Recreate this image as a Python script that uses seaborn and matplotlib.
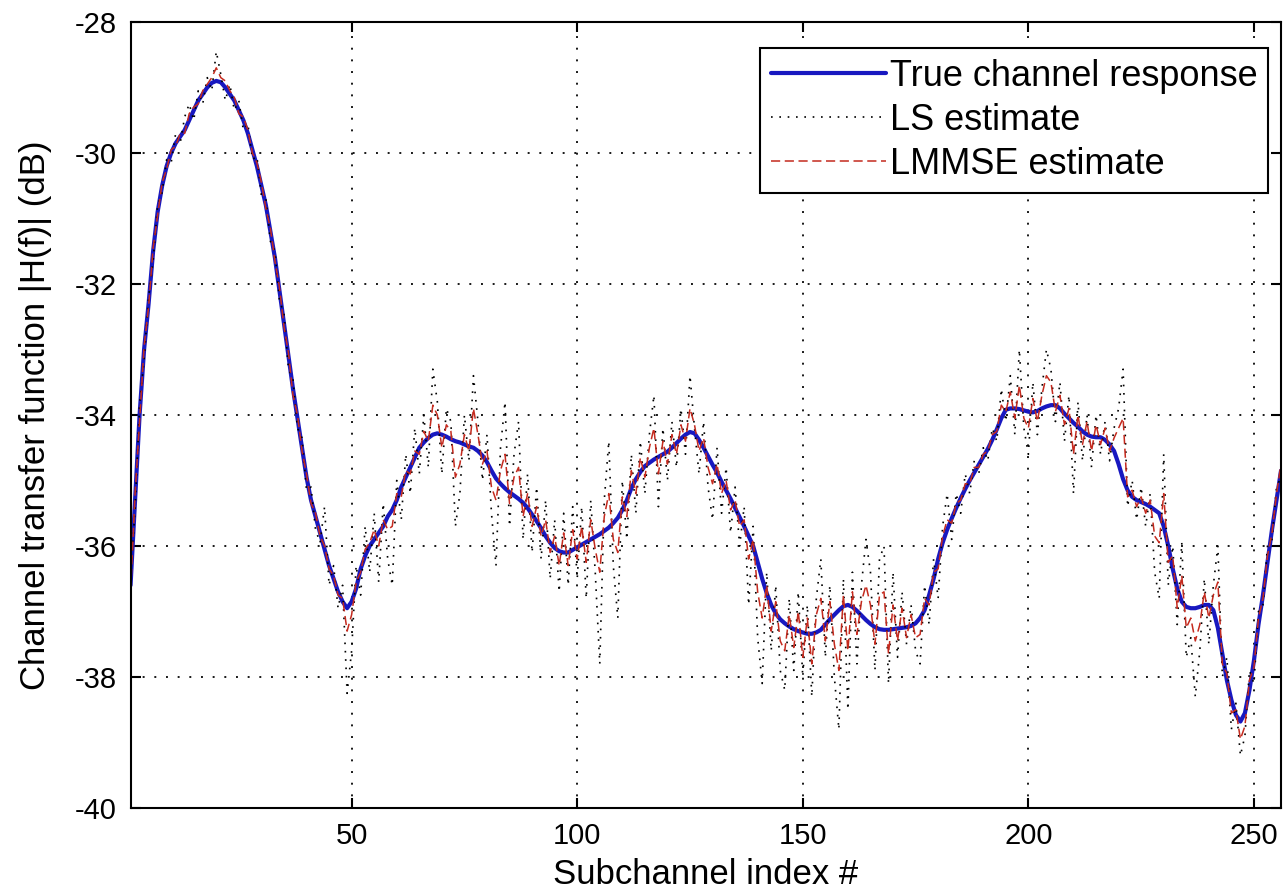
import matplotlib
matplotlib.use("Agg")
import matplotlib.pyplot as plt
import seaborn as sns
import numpy as np
import pandas as pd

# ---------------- data ----------------
subchannel = list(range(1, 257))

true_response = [
    -36.60, -35.30, -34.00, -33.00, -32.30, -31.50, -30.90, -30.50, -30.20, -30.00,
    -29.85, -29.75, -29.65, -29.50, -29.35, -29.20, -29.10, -29.00, -28.93, -28.90,
    -28.92, -29.00, -29.10, -29.20, -29.35, -29.50, -29.70, -29.95, -30.20, -30.50,
    -30.80, -31.20, -31.60, -32.10, -32.60, -33.10, -33.60, -34.05, -34.50, -34.95,
    -35.30, -35.55, -35.80, -36.05, -36.30, -36.50, -36.70, -36.85, -36.95, -36.85,
    -36.65, -36.35, -36.15, -36.00, -35.90, -35.80, -35.70, -35.55, -35.45, -35.30,
    -35.10, -34.95, -34.80, -34.65, -34.50, -34.42, -34.35, -34.30, -34.28, -34.30,
    -34.33, -34.37, -34.40, -34.42, -34.45, -34.48, -34.50, -34.55, -34.62, -34.72,
    -34.85, -34.97, -35.05, -35.12, -35.18, -35.23, -35.28, -35.34, -35.42, -35.52,
    -35.62, -35.73, -35.85, -35.95, -36.03, -36.08, -36.10, -36.10, -36.06, -36.02,
    -35.98, -35.94, -35.90, -35.86, -35.82, -35.77, -35.72, -35.65, -35.57, -35.45,
    -35.30, -35.12, -34.98, -34.87, -34.78, -34.73, -34.68, -34.64, -34.60, -34.56,
    -34.50, -34.43, -34.36, -34.30, -34.26, -34.28, -34.38, -34.50, -34.63, -34.76,
    -34.88, -35.02, -35.15, -35.28, -35.42, -35.56, -35.70, -35.85, -36.00, -36.25,
    -36.50, -36.72, -36.90, -37.03, -37.12, -37.18, -37.23, -37.27, -37.30, -37.32,
    -37.34, -37.34, -37.32, -37.28, -37.20, -37.12, -37.05, -36.98, -36.92, -36.90,
    -36.93, -36.99, -37.06, -37.13, -37.19, -37.24, -37.27, -37.28, -37.28, -37.27,
    -37.26, -37.25, -37.24, -37.22, -37.18, -37.10, -36.98, -36.75, -36.50, -36.20,
    -35.95, -35.75, -35.58, -35.42, -35.27, -35.13, -35.00, -34.88, -34.76, -34.64,
    -34.52, -34.38, -34.22, -34.05, -33.92, -33.90, -33.90, -33.91, -33.93, -33.95,
    -33.96, -33.94, -33.90, -33.87, -33.85, -33.85, -33.90, -33.98, -34.05, -34.12,
    -34.18, -34.25, -34.30, -34.33, -34.34, -34.34, -34.38, -34.45, -34.55, -34.75,
    -34.98, -35.15, -35.25, -35.30, -35.33, -35.36, -35.40, -35.45, -35.50, -35.70,
    -36.00, -36.35, -36.65, -36.85, -36.93, -36.95, -36.95, -36.93, -36.90, -36.90,
    -36.98, -37.25, -37.65, -38.05, -38.35, -38.58, -38.68, -38.55, -38.20, -37.75,
    -37.20, -36.75, -36.25, -35.75, -35.30, -34.85,
]

ls_estimate = [
    -36.45, -35.45, -33.85, -33.15, -32.20, -31.65, -30.80, -30.60, -30.10, -30.15,
    -29.70, -29.85, -29.45, -29.25, -29.50, -29.05, -29.25, -28.85, -29.05, -28.45,
    -28.80, -29.20, -28.95, -29.35, -29.20, -29.65, -29.55, -30.10, -30.05, -30.65,
    -30.70, -31.35, -31.50, -32.25, -32.45, -33.30, -33.45, -34.20, -34.35, -35.15,
    -35.10, -35.75, -35.95, -35.40, -36.60, -36.30, -36.95, -36.60, -38.25, -37.60,
    -36.30, -36.75, -35.70, -36.40, -35.50, -36.55, -35.35, -36.20, -36.60, -35.00,
    -35.60, -34.60, -35.20, -34.20, -34.90, -34.00, -34.80, -33.30, -33.80, -34.90,
    -33.90, -34.10, -35.70, -35.20, -34.00, -34.70, -33.40, -34.10, -35.00, -34.30,
    -35.50, -36.30, -34.50, -33.80, -35.70, -34.60, -34.10, -35.90, -34.90, -36.10,
    -35.10, -36.20, -35.30, -36.50, -35.60, -36.70, -35.50, -36.60, -35.40, -36.50,
    -35.40, -36.80, -35.30, -36.40, -37.80, -35.30, -34.40, -36.30, -37.10, -35.00,
    -35.90, -34.60, -35.50, -34.40, -35.20, -34.30, -33.70, -35.40, -34.20, -35.00,
    -34.10, -34.80, -33.90, -34.60, -33.40, -34.20, -34.90, -34.10, -35.10, -35.60,
    -34.50, -35.50, -34.80, -35.80, -35.10, -36.00, -35.40, -36.90, -35.70, -37.40,
    -38.10, -36.40, -37.60, -36.60, -37.90, -38.20, -36.80, -37.90, -36.70, -38.00,
    -36.90, -38.30, -36.80, -36.20, -37.70, -36.60, -38.00, -38.80, -36.50, -38.50,
    -36.40, -37.80, -36.60, -35.90, -36.40, -37.90, -36.20, -36.00, -38.10, -36.40,
    -37.70, -36.70, -37.50, -36.90, -37.60, -37.80, -36.60, -37.20, -36.20, -36.80,
    -35.70, -35.20, -35.90, -35.20, -35.50, -34.90, -35.20, -34.70, -34.90, -34.50,
    -34.70, -34.20, -34.40, -33.60, -34.10, -33.40, -34.30, -33.00, -34.20, -34.60,
    -33.50, -34.30, -33.60, -33.00, -33.30, -34.10, -33.50, -34.40, -33.70, -35.20,
    -33.80, -34.70, -34.00, -34.80, -34.00, -34.60, -34.10, -34.70, -34.20, -33.90,
    -33.30, -35.40, -35.00, -35.60, -35.10, -35.70, -35.20, -36.40, -36.80, -34.60,
    -36.60, -36.00, -37.20, -35.95, -37.70, -37.40, -38.30, -37.60, -36.50, -37.50,
    -36.60, -36.00, -38.00, -37.70, -38.80, -38.40, -39.20, -38.90, -37.90, -38.10,
    -37.00, -36.90, -36.00, -35.90, -35.10, -34.95,
]

lmmse_estimate = [
    -36.70, -35.20, -34.10, -32.95, -32.35, -31.45, -30.95, -30.45, -30.25, -29.95,
    -29.90, -29.70, -29.70, -29.40, -29.30, -29.25, -29.05, -28.95, -28.85, -28.70,
    -28.85, -28.90, -29.05, -29.15, -29.40, -29.45, -29.65, -30.00, -30.15, -30.45,
    -30.85, -31.15, -31.65, -32.05, -32.65, -33.05, -33.70, -34.00, -34.55, -34.90,
    -35.35, -35.50, -35.85, -36.00, -36.35, -36.45, -36.75, -36.80, -37.30, -37.05,
    -36.55, -36.40, -36.05, -35.95, -35.75, -36.00, -35.60, -35.75, -35.70, -35.20,
    -35.25, -34.85, -34.90, -34.55, -34.60, -34.25, -34.40, -33.85, -34.00, -34.50,
    -34.15, -34.25, -34.95, -34.75, -34.30, -34.55, -33.90, -34.30, -34.75, -34.55,
    -35.10, -35.30, -34.85, -34.60, -35.35, -34.95, -34.80, -35.55, -35.20, -35.70,
    -35.40, -35.85, -35.60, -36.10, -35.85, -36.30, -35.80, -36.30, -35.75, -36.20,
    -35.70, -36.25, -35.60, -36.05, -36.40, -35.55, -35.20, -35.90, -36.10, -35.25,
    -35.55, -34.85, -35.20, -34.65, -34.95, -34.50, -34.20, -34.90, -34.40, -34.75,
    -34.30, -34.60, -34.15, -34.40, -33.90, -34.15, -34.55, -34.35, -34.80, -35.05,
    -34.75, -35.20, -35.00, -35.45, -35.30, -35.70, -35.60, -36.20, -35.90, -36.70,
    -37.10, -36.60, -37.30, -36.85, -37.45, -37.60, -37.05, -37.55, -37.00, -37.70,
    -37.10, -37.80, -37.05, -36.80, -37.45, -36.85, -37.50, -37.90, -36.75, -37.60,
    -36.70, -37.35, -36.85, -36.60, -36.90, -37.50, -36.75, -36.70, -37.65, -36.90,
    -37.45, -36.95, -37.40, -37.05, -37.40, -37.35, -36.80, -36.90, -36.40, -36.35,
    -35.85, -35.60, -35.65, -35.35, -35.30, -35.05, -35.05, -34.80, -34.80, -34.60,
    -34.55, -34.30, -34.25, -33.85, -33.95, -33.65, -34.05, -33.55, -34.05, -34.20,
    -33.75, -34.10, -33.70, -33.40, -33.50, -33.95, -33.70, -34.15, -33.90, -34.60,
    -34.00, -34.45, -34.10, -34.55, -34.15, -34.45, -34.20, -34.55, -34.35, -34.20,
    -34.05, -35.25, -35.15, -35.40, -35.25, -35.50, -35.30, -35.85, -35.95, -35.20,
    -36.25, -36.15, -36.95, -36.45, -37.25, -37.10, -37.45, -37.20, -36.70, -37.10,
    -36.75, -36.55, -37.80, -37.95, -38.55, -38.50, -38.95, -38.75, -38.05, -37.85,
    -37.10, -36.80, -36.15, -35.80, -35.20, -34.75,
]

x_ticks = [50, 100, 150, 200, 250]
y_ticks = [-40, -38, -36, -34, -32, -30, -28]
series_names = ["True channel response", "LS estimate", "LMMSE estimate"]

# ---------------- figure ----------------
sns.set_style("white")
plt.rcParams["font.family"] = ["Liberation Sans", "DejaVu Sans"]
plt.rcParams["text.color"] = "black"
plt.rcParams["axes.labelcolor"] = "black"
plt.rcParams["xtick.color"] = "black"
plt.rcParams["ytick.color"] = "black"

fig = plt.figure(figsize=(12.85, 8.93), dpi=100)
ax = fig.add_axes([0.1016, 0.0952, 0.8953, 0.8802])

df_true = pd.DataFrame({"x": subchannel, "y": true_response})
df_ls = pd.DataFrame({"x": subchannel, "y": ls_estimate})
df_lm = pd.DataFrame({"x": subchannel, "y": lmmse_estimate})

sns.lineplot(data=df_true, x="x", y="y", ax=ax, color="#1818c0", linewidth=3.0,
             label=series_names[0], errorbar=None)
sns.lineplot(data=df_ls, x="x", y="y", ax=ax, color="black", linewidth=1.2,
             linestyle=(0, (1, 4)), label=series_names[1], errorbar=None)
sns.lineplot(data=df_lm, x="x", y="y", ax=ax, color="#c42a1e", linewidth=1.1,
             linestyle=(0, (6, 3)), label=series_names[2], errorbar=None)

ax.set_xlim(1, 256)
ax.set_ylim(-40, -28)
ax.set_xticks(x_ticks)
ax.set_yticks(y_ticks)
ax.set_xticklabels([str(v) for v in x_ticks], fontsize=21)
ax.set_yticklabels([str(v) for v in y_ticks], fontsize=21)

ax.grid(True, color="black", linestyle=(0, (1, 5)), linewidth=1.4, alpha=0.9)
ax.set_axisbelow(True)

for s in ax.spines.values():
    s.set_visible(True)
    s.set_color("black")
    s.set_linewidth(1.5)

ax.tick_params(axis="both", direction="in", length=7, width=1.5, colors="black",
               top=True, right=True, bottom=True, left=True, pad=10)

ax.set_xlabel("Subchannel index #", fontsize=25, labelpad=6)
ax.set_ylabel("Channel transfer function |H(f)| (dB)", fontsize=25, labelpad=16)

leg = ax.legend(loc="upper right", bbox_to_anchor=(0.989, 0.967), fontsize=26,
                frameon=True, fancybox=False, edgecolor="black", framealpha=1,
                handlelength=3.2, handletextpad=0.1, borderpad=0.3,
                labelspacing=0.25, borderaxespad=0)
leg.get_frame().set_linewidth(1.5)

fig.savefig("out.png", dpi=100)
